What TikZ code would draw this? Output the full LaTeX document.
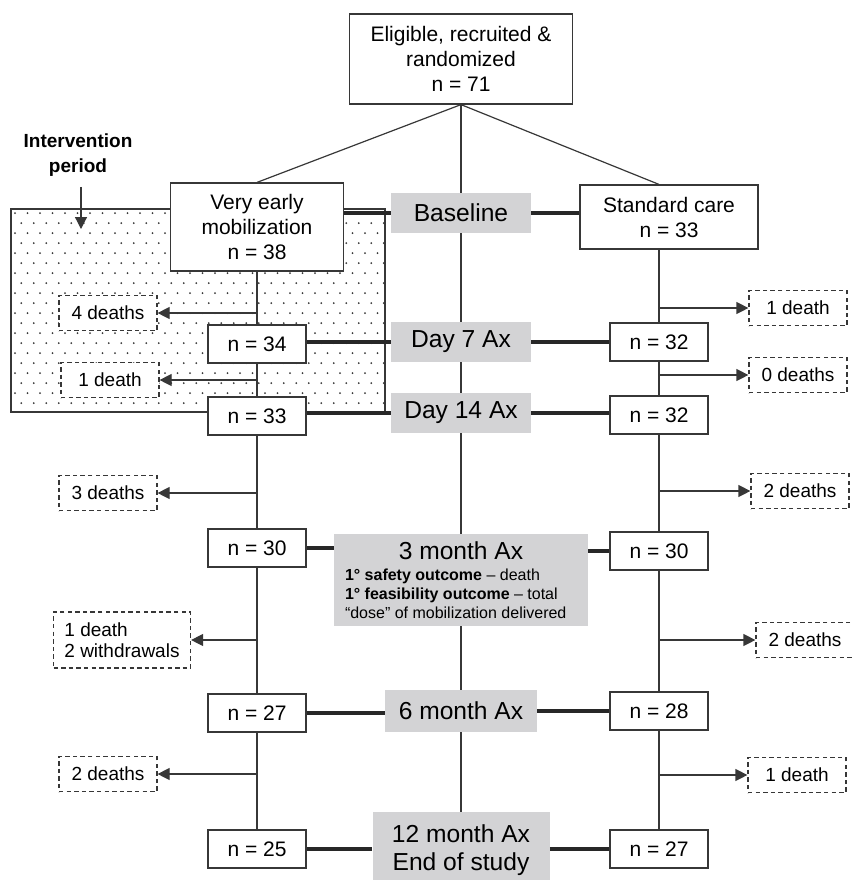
\documentclass[tikz,border=0pt]{standalone}
\usepackage{fontspec}
\setmainfont{Liberation Sans}
\usetikzlibrary{arrows.meta, positioning}
\definecolor{axgray}{RGB}{211, 211, 213}
\definecolor{linegray}{RGB}{55, 55, 55}
\newcommand{\boxfont}{\fontsize{10.5}{12.5}\selectfont}
\newcommand{\lossfont}{\fontsize{9.5}{10.5}\selectfont}
\newcommand{\axfont}{\fontsize{12.3}{14}\selectfont}
\newcommand{\notefont}{\fontsize{8}{9.5}\selectfont}

\begin{document}
\begin{tikzpicture}[x=0.5pt, y=-0.5pt,
    every node/.style={font=\boxfont},
    stagebox/.style={draw=linegray, line width=0.6pt, fill=white, align=center, inner sep=1pt},
    countbox/.style={draw=linegray, line width=0.6pt, fill=white, minimum width=49pt, minimum height=19pt, inner sep=1pt},
    lossbox/.style={draw=linegray, line width=0.6pt, dash pattern=on 2.2pt off 1.6pt, fill=white, font=\lossfont, minimum width=49pt, minimum height=17.5pt, inner sep=1pt},
    axbox/.style={fill=axgray, font=\axfont, minimum width=70pt, minimum height=20pt, inner sep=1pt, align=center},
    flowline/.style={draw=linegray, line width=0.6pt},
    thickline/.style={draw=linegray!70!black, line width=1.6pt},
    lossarrow/.style={flowline, -{Triangle[length=6pt, width=6pt]}}]
                    \useasboundingbox (0,0) rectangle (853,880);

                    % Intervention period (dotted area)
                    \node[draw=linegray, line width=0.6pt, fill=white, minimum width=187pt, minimum height=101.5pt, inner sep=0pt] (ivp) at (198,310.5) {};
                    \begin{scope}
                        \clip (ivp.south west) rectangle (ivp.north east);
                        \foreach \r in {0,...,20}
                            \foreach \c in {0,...,30}
                                \fill[linegray] ({15+\c*12.5+mod(\r,2)*6.25},{213+\r*10}) circle (0.5pt);
                    \end{scope}
                    \node[font=\fontsize{9.5}{12.5}\selectfont\bfseries, align=center, inner sep=0pt] (ivlabel) at (78,155) {Intervention\\period};
                    \coordinate (ivtip) at (81,229);

                    % Randomization
                    \node[stagebox, minimum width=111.5pt, minimum height=45pt] (top) at (461,59) {Eligible, recruited \&\\randomized\\n = 71};
                    \node[stagebox, minimum width=86.5pt, minimum height=44pt] (vem) at (257,227) {Very early\\mobilization\\n = 38};
                    \node[stagebox, minimum width=89pt, minimum height=32pt] (std) at (669,217) {Standard care\\n = 33};

                    % Assessment points
                    \node[axbox] (base) at (461,213) {Baseline};
                    \node[axbox] (d7) at (461,342) {Day 7 Ax};
                    \node[axbox] (d14) at (461,413) {Day 14 Ax};
                    \node[axbox, minimum width=127pt, minimum height=46pt, inner sep=0pt] (m3) at (461,580) {\parbox{116pt}{\centering\axfont 3 month Ax\par\vspace{1pt}\raggedright\notefont\textbf{1° safety outcome} – death\par\textbf{1° feasibility outcome} – total\par“dose” of mobilization delivered}};
                    \node[axbox, minimum width=76pt, minimum height=21pt] (m6) at (461,711) {6 month Ax};
                    \node[axbox, minimum width=88.5pt, minimum height=38pt] (m12) at (461,850) {12 month Ax\\End of study};

                    % Counts
                    \node[countbox] (c34) at (257,344) {n = 34};
                    \node[countbox] (c33) at (257,416) {n = 33};
                    \node[countbox] (c30) at (257,548) {n = 30};
                    \node[countbox] (c27) at (257,713) {n = 27};
                    \node[countbox] (c25) at (257,849) {n = 25};
                    \node[countbox] (r32a) at (659,342) {n = 32};
                    \node[countbox] (r32b) at (659,415) {n = 32};
                    \node[countbox] (r30) at (659,551) {n = 30};
                    \node[countbox] (r28) at (659,711) {n = 28};
                    \node[countbox] (r27) at (659,849) {n = 27};

                    % Losses
                    \node[lossbox] (l4) at (108,313) {4 deaths};
                    \node[lossbox] (l1) at (110,380) {1 death};
                    \node[lossbox] (l3) at (108,493) {3 deaths};
                    \node[lossbox, minimum width=68.5pt, minimum height=28pt, align=left] (lw) at (122,640) {1 death\\2 withdrawals};
                    \node[lossbox] (l2) at (108,774) {2 deaths};
                    \node[lossbox] (q1) at (798,308) {1 death};
                    \node[lossbox] (q0) at (798,375) {0 deaths};
                    \node[lossbox] (q2a) at (800,491) {2 deaths};
                    \node[lossbox] (q2b) at (805,640) {2 deaths};
                    \node[lossbox] (q1b) at (797,775) {1 death};

                    % Connectors
                    \draw[lossarrow, shorten <=5pt] (ivlabel.south -| ivtip) -- (ivtip);
                    \draw[flowline] (top.south) -- (vem.north);
                    \draw[flowline] (top.south) -- (std.north -| r32a);
                    \draw[flowline] (top) -- (base) -- (d7) -- (d14) -- (m3) -- (m6) -- (m12);
                    \draw[flowline] (vem) -- (c34) -- (c33) -- (c30) -- (c27) -- (c25);
                    \draw[flowline] (std.south -| r32a) -- (r32a) -- (r32b) -- (r30) -- (r28) -- (r27);

                    \draw[thickline] (base.west) -- (base.west -| vem.east);
                    \draw[thickline] (base.east) -- (base.east -| std.west);
                    \draw[thickline] (d7.west) -- (d7.west -| c34.east);
                    \draw[thickline] (d7.east) -- (d7.east -| r32a.west);
                    \draw[thickline] (d14.west) -- (d14.west -| c33.east);
                    \draw[thickline] (d14.east) -- (d14.east -| r32b.west);
                    \draw[thickline] (m3.west |- c30) -- (c30.east);
                    \draw[thickline] (m3.east |- r30) -- (r30.west);
                    \draw[thickline] (m6.west |- c27) -- (c27.east);
                    \draw[thickline] (m6.east) -- (r28.west);
                    \draw[thickline] (m12.west |- c25) -- (c25.east);
                    \draw[thickline] (m12.east |- r27) -- (r27.west);

                    \draw[lossarrow] (vem |- l4) -- (l4);
                    \draw[lossarrow] (c34 |- l1) -- (l1);
                    \draw[lossarrow] (c33 |- l3) -- (l3);
                    \draw[lossarrow] (c30 |- lw) -- (lw);
                    \draw[lossarrow] (c27 |- l2) -- (l2);
                    \draw[lossarrow] (r32a |- q1) -- (q1);
                    \draw[lossarrow] (r32a |- q0) -- (q0);
                    \draw[lossarrow] (r32b |- q2a) -- (q2a);
                    \draw[lossarrow] (r30 |- q2b) -- (q2b);
                    \draw[lossarrow] (r28 |- q1b) -- (q1b);
                \end{tikzpicture}
\end{document}
